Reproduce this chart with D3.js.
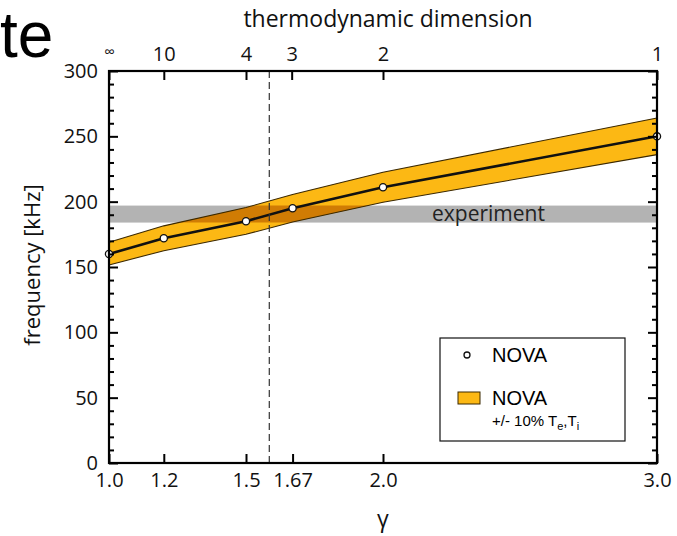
<!DOCTYPE html>
<html><head><meta charset="utf-8">
<script src="https://cdn.jsdelivr.net/npm/d3@7"></script>
<style>body{margin:0;background:#fff} svg{display:block}</style>
</head><body><div id="chart"></div>
<script>
// values
const gammaVals = [1.0, 1.2, 1.5, 1.67, 2.0, 3.0];
const novaFreq = [160, 172, 185, 195, 211, 250];
const bandUpper = [169, 181.5, 195.5, 205.5, 222.5, 264];
const bandLower = [151.5, 162.5, 175, 184.5, 199.5, 236];
const gammaTicks = [1.0, 1.2, 1.5, 1.67, 2.0, 3.0];
const gammaLabels = ["1.0", "1.2", "1.5", "1.67", "2.0", "3.0"];
const dimTicks = [1.0, 1.2, 1.5, 5 / 3, 2.0, 3.0];
const dimLabels = ["∞", "10", "4", "3", "2", "1"];
const experimentRange = [184, 197];
const dashedGamma = 1.585;

const w = 677, h = 536;
const pLeft = 109, pRight = 657, pTop = 71, pBottom = 463;
const tickFont = "'Open Sans', sans-serif";

const svg = d3.select("#chart").append("svg").attr("width", w).attr("height", h);

const x = d3.scaleLinear().domain([1, 3]).range([pLeft, pRight]);
const y = d3.scaleLinear().domain([0, 300]).range([pBottom, pTop]);

const data = gammaVals.map((g, i) => ({g: g, f: novaFreq[i], hi: bandUpper[i], lo: bandLower[i]}));

// word left over from the slide
svg.append("text").attr("x", 0).attr("y", 57)
    .style("font-family", "'Liberation Sans', Arial, sans-serif").style("font-size", "64px")
    .text("te");

const defs = svg.append("defs");
defs.append("clipPath").attr("id", "expClip").append("rect")
    .attr("x", x(1)).attr("width", x(3) - x(1))
    .attr("y", y(experimentRange[1])).attr("height", y(experimentRange[0]) - y(experimentRange[1]));

// experiment band
svg.append("rect")
    .attr("x", x(1)).attr("width", x(3) - x(1))
    .attr("y", y(experimentRange[1])).attr("height", y(experimentRange[0]) - y(experimentRange[1]))
    .attr("fill", "#b3b3b3");

svg.append("text").attr("x", 432).attr("y", 221)
    .style("font-family", tickFont).style("font-size", "21px").attr("fill", "#222")
    .text("experiment");

const area = d3.area().x(d => x(d.g)).y0(d => y(d.lo)).y1(d => y(d.hi));
const lineHi = d3.line().x(d => x(d.g)).y(d => y(d.hi));
const lineLo = d3.line().x(d => x(d.g)).y(d => y(d.lo));
const lineMid = d3.line().x(d => x(d.g)).y(d => y(d.f));

svg.append("path").datum(data).attr("d", area).attr("fill", "#fcb814");
svg.append("path").datum(data).attr("d", area).attr("fill", "#d07c04").attr("clip-path", "url(#expClip)");
svg.append("path").datum(data).attr("d", lineHi).attr("fill", "none").attr("stroke", "#3b2800").attr("stroke-width", 1.1);
svg.append("path").datum(data).attr("d", lineLo).attr("fill", "none").attr("stroke", "#3b2800").attr("stroke-width", 1.1);
svg.append("path").datum(data).attr("d", lineMid).attr("fill", "none").attr("stroke", "#111").attr("stroke-width", 2.6)
    .attr("stroke-linejoin", "round");

svg.selectAll("circle.pt").data(data).join("circle").attr("class", "pt")
    .attr("cx", d => x(d.g)).attr("cy", d => y(d.f)).attr("r", 3.6)
    .attr("fill", "#fff").attr("stroke", "#111").attr("stroke-width", 1.3);

// dashed reference line
svg.append("line").attr("x1", x(dashedGamma)).attr("x2", x(dashedGamma))
    .attr("y1", pTop).attr("y2", pBottom)
    .attr("stroke", "#333").attr("stroke-width", 1.2).attr("stroke-dasharray", "7,4");

// axes, ticks pointing inward
const yMinor = d3.range(0, 301, 10).filter(v => v % 50 !== 0);
svg.append("g").attr("transform", `translate(${pLeft},0)`)
    .call(d3.axisLeft(y).tickValues(yMinor).tickSize(-5).tickFormat(""));
svg.append("g").attr("transform", `translate(${pRight},0)`)
    .call(d3.axisRight(y).tickValues(yMinor).tickSize(-5).tickFormat(""));
svg.append("g").attr("transform", `translate(${pLeft},0)`)
    .call(d3.axisLeft(y).tickValues(d3.range(0, 301, 50)).tickSize(-9).tickPadding(11));
svg.append("g").attr("transform", `translate(${pRight},0)`)
    .call(d3.axisRight(y).tickValues(d3.range(0, 301, 50)).tickSize(-9).tickFormat(""));

svg.append("g").attr("transform", `translate(0,${pBottom})`)
    .call(d3.axisBottom(x).tickValues(gammaTicks).tickSize(-9).tickPadding(10)
        .tickFormat((d, i) => gammaLabels[i]));
const topAxis = svg.append("g").attr("transform", `translate(0,${pTop})`)
    .call(d3.axisTop(x).tickValues(dimTicks).tickSize(-9).tickPadding(10)
        .tickFormat((d, i) => dimLabels[i]));

svg.selectAll(".domain").remove();
svg.selectAll(".tick line").attr("stroke", "#000").attr("stroke-width", 2);
svg.selectAll(".tick text").style("font-family", tickFont).style("font-size", "20px").attr("fill", "#111");
topAxis.selectAll(".tick text").filter((d, i) => i === 0).style("font-size", "15px").attr("dy", "-0.3em");

svg.append("rect").attr("x", pLeft).attr("y", pTop).attr("width", pRight - pLeft).attr("height", pBottom - pTop)
    .attr("fill", "none").attr("stroke", "#000").attr("stroke-width", 2.2);

// axis titles
svg.append("text").attr("x", 388).attr("y", 27).attr("text-anchor", "middle")
    .style("font-family", tickFont).style("font-size", "23px").attr("fill", "#111")
    .text("thermodynamic dimension");
svg.append("text").attr("transform", "translate(40,265) rotate(-90)").attr("text-anchor", "middle")
    .style("font-family", tickFont).style("font-size", "22px").attr("fill", "#111")
    .text("frequency [kHz]");
svg.append("text").attr("x", x(2)).attr("y", 527).attr("text-anchor", "middle")
    .style("font-family", tickFont).style("font-size", "23px").attr("fill", "#111")
    .text("γ");

// legend
const legFont = "'Liberation Sans', Arial, sans-serif";
const leg = svg.append("g").attr("transform", "translate(440,338)");
leg.append("rect").attr("width", 185).attr("height", 103)
    .attr("fill", "#fff").attr("stroke", "#111").attr("stroke-width", 1.2);
leg.append("circle").attr("cx", 27).attr("cy", 17).attr("r", 3)
    .attr("fill", "#fff").attr("stroke", "#111").attr("stroke-width", 1.3);
leg.append("text").attr("x", 52).attr("y", 24).style("font-family", legFont).style("font-size", "20px").text("NOVA");
leg.append("rect").attr("x", 18).attr("y", 54).attr("width", 22).attr("height", 12)
    .attr("fill", "#fcb814").attr("stroke", "#3b2800").attr("stroke-width", 1);
leg.append("text").attr("x", 52).attr("y", 67).style("font-family", legFont).style("font-size", "20px").text("NOVA");
const sub = leg.append("text").attr("x", 52).attr("y", 88).style("font-family", legFont).style("font-size", "15px");
sub.append("tspan").text("+/- 10% T");
sub.append("tspan").attr("dy", 4).style("font-size", "11px").text("e");
sub.append("tspan").attr("dy", -4).text(",T");
sub.append("tspan").attr("dy", 4).style("font-size", "11px").text("i");
</script>
</body></html>
